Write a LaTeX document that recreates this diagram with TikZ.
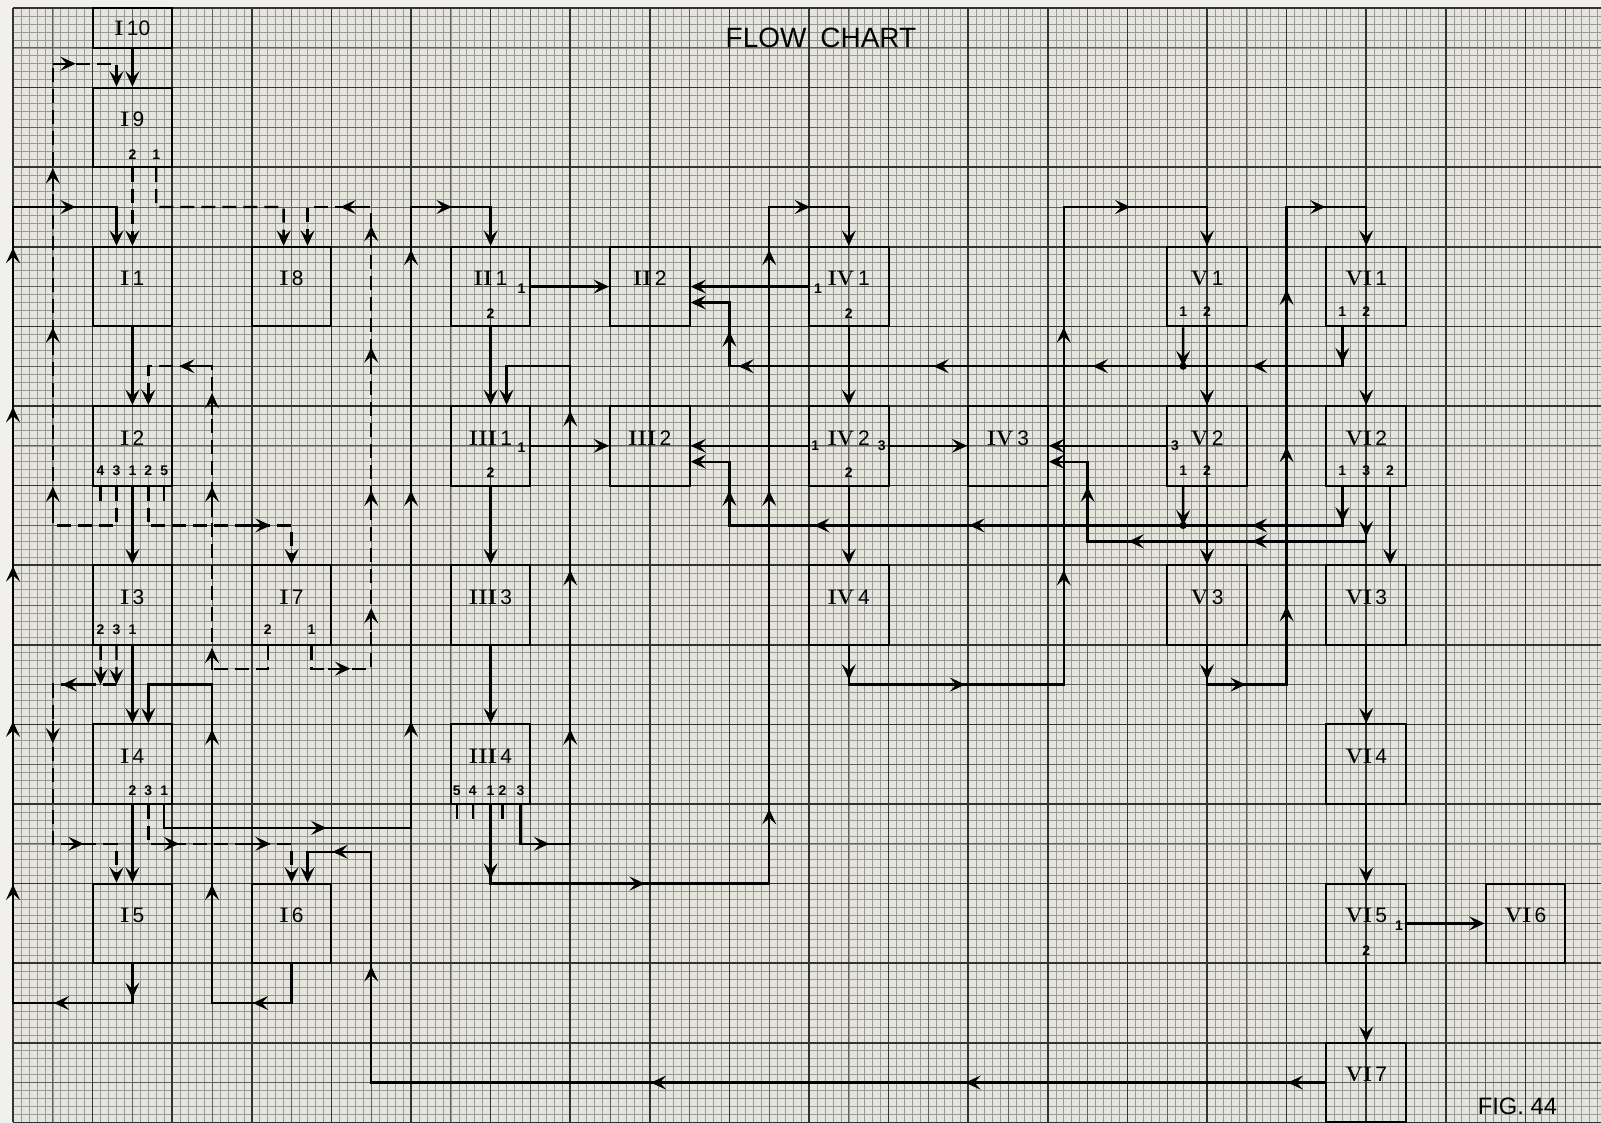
\documentclass[tikz,border=0pt]{standalone}
\usepackage{fontspec}
\setsansfont{Liberation Sans}
\usepackage{xcolor}
\usetikzlibrary{arrows.meta, positioning, calc}
\definecolor{paper}{RGB}{229,228,221}
\definecolor{rim}{RGB}{241,240,236}
\tikzstyle{ar} = [-{Stealth[length=11pt, width=10pt, inset=4.5pt]}]
\newcommand{\rn}[2]{{\rmfamily\bfseries #1}\,{\sffamily #2}}

\begin{document}
\begin{tikzpicture}[x=1cm, y=-1cm,
  blk/.style={rectangle, draw=black, line width=1.4pt, minimum width=2cm,
              minimum height=2cm, inner sep=0pt},
  halfblk/.style={blk, minimum height=1cm},
  lbl/.style={font=\fontsize{15}{17}\selectfont},
  lb/.style={label={[lbl, yshift=2mm]center:#1}},
  pn/.style={font=\sffamily\bfseries\fontsize{10}{12}\selectfont, inner sep=0pt},
  wire/.style={line width=1.7pt},
  dwire/.style={wire, dash pattern=on 10pt off 5pt},
  fineln/.style={black!40, line width=0.4pt},
  midln/.style={black!62, line width=0.7pt},
  bigln/.style={black!80, line width=1.1pt},
  pics/aru/.style={code={\draw[wire,ar] (0,-11pt) -- (0,5pt);}},
  pics/ard/.style={code={\draw[wire,ar] (0,11pt) -- (0,-5pt);}},
  pics/arr/.style={code={\draw[wire,ar] (-11pt,0) -- (5pt,0);}},
  pics/arl/.style={code={\draw[wire,ar] (11pt,0) -- (-5pt,0);}}
]
  % graph paper
  \useasboundingbox (-0.327,-0.201) rectangle (39.899,28.015);
  \fill[rim] (-0.327,-0.201) rectangle (39.899,28.015);
  \fill[paper] (0,0) rectangle (39.899,28);
  \foreach \i in {1,...,199} \draw[fineln] ({\i/5},0) -- ({\i/5},28);
  \foreach \j in {1,...,139} \draw[fineln] (0,{\j/5}) -- (39.899,{\j/5});
  \foreach \i in {1,3,...,39} \draw[midln] (\i,0) -- (\i,28);
  \foreach \j in {1,3,...,27} \draw[midln] (0,\j) -- (39.899,\j);
  \foreach \i in {0,2,...,38} \draw[bigln] (\i,0) -- (\i,28);
  \foreach \j in {0,2,...,28} \draw[bigln] (0,\j) -- (39.899,\j);

  \node[font=\sffamily\fontsize{20}{24}\selectfont] (title) at (20.3,0.75) {FLOW\hspace{0.35cm}CHART};
  \node[font=\sffamily\fontsize{17}{20}\selectfont] (fig) at (37.8,27.6) {FIG.\ 44};

  % blocks
  \node[halfblk, label={[lbl]center:\rn{I}{10}}] (I10) at (3,0.5) {};
  \node[blk, lb=\rn{I}{9}]   (I9)   at (3,3)  {};
  \node[blk, lb=\rn{I}{1}]   (I1)   at (3,7)  {};
  \node[blk, lb=\rn{I}{8}]   (I8)   at (7,7)  {};
  \node[blk, lb=\rn{II}{1}]  (II1)  at (12,7) {};
  \node[blk, lb=\rn{II}{2}]  (II2)  at (16,7) {};
  \node[blk, lb=\rn{IV}{1}]  (IV1)  at (21,7) {};
  \node[blk, lb=\rn{V}{1}]   (V1)   at (30,7) {};
  \node[blk, lb=\rn{VI}{1}]  (VI1)  at (34,7) {};
  \node[blk, lb=\rn{I}{2}]   (I2)   at (3,11) {};
  \node[blk, lb=\rn{III}{1}] (III1) at (12,11) {};
  \node[blk, lb=\rn{III}{2}] (III2) at (16,11) {};
  \node[blk, lb=\rn{IV}{2}]  (IV2)  at (21,11) {};
  \node[blk, lb=\rn{IV}{3}]  (IV3)  at (25,11) {};
  \node[blk, lb=\rn{V}{2}]   (V2)   at (30,11) {};
  \node[blk, lb=\rn{VI}{2}]  (VI2)  at (34,11) {};
  \node[blk, lb=\rn{I}{3}]   (I3)   at (3,15) {};
  \node[blk, lb=\rn{I}{7}]   (I7)   at (7,15) {};
  \node[blk, lb=\rn{III}{3}] (III3) at (12,15) {};
  \node[blk, lb=\rn{IV}{4}]  (IV4)  at (21,15) {};
  \node[blk, lb=\rn{V}{3}]   (V3)   at (30,15) {};
  \node[blk, lb=\rn{VI}{3}]  (VI3)  at (34,15) {};
  \node[blk, lb=\rn{I}{4}]   (I4)   at (3,19) {};
  \node[blk, lb=\rn{III}{4}] (III4) at (12,19) {};
  \node[blk, lb=\rn{VI}{4}]  (VI4)  at (34,19) {};
  \node[blk, lb=\rn{I}{5}]   (I5)   at (3,23) {};
  \node[blk, lb=\rn{I}{6}]   (I6)   at (7,23) {};
  \node[blk, lb=\rn{VI}{5}]  (VI5)  at (34,23) {};
  \node[blk, lb=\rn{VI}{6}]  (VI6)  at (38,23) {};
  \node[blk, lb=\rn{VI}{7}]  (VI7)  at (34,27) {};

  % port numbers
  \foreach \p/\dx in {2/0, 1/0.6} \node[pn] (I9p\p) at ($(I9.south)+(\dx,-0.35)$) {\p};
  \foreach \p/\dx in {4/-0.8, 3/-0.4, 1/0, 2/0.4, 5/0.8} \node[pn] (I2p\p) at ($(I2.south)+(\dx,-0.4)$) {\p};
  \foreach \p/\dx in {2/-0.8, 3/-0.4, 1/0} \node[pn] (I3p\p) at ($(I3.south)+(\dx,-0.4)$) {\p};
  \foreach \p/\dx in {2/-0.6, 1/0.5} \node[pn] (I7p\p) at ($(I7.south)+(\dx,-0.4)$) {\p};
  \foreach \p/\dx in {2/0, 3/0.4, 1/0.8} \node[pn] (I4p\p) at ($(I4.south)+(\dx,-0.35)$) {\p};
  \foreach \p/\dx in {5/-0.85, 4/-0.45, 1/0, 2/0.3, 3/0.75} \node[pn] (III4p\p) at ($(III4.south)+(\dx,-0.35)$) {\p};
  \foreach \b in {V1, VI1} \foreach \p/\dx in {1/-0.6, 2/0} \node[pn] (\b p\p) at ($(\b.south)+(\dx,-0.4)$) {\p};
  \foreach \p/\dx in {1/-0.6, 2/0} \node[pn] (V2p\p) at ($(V2.south)+(\dx,-0.4)$) {\p};
  \foreach \p/\dx in {1/-0.6, 3/0, 2/0.6} \node[pn] (VI2p\p) at ($(VI2.south)+(\dx,-0.4)$) {\p};
  \foreach \b in {II1, III1, IV1, IV2, VI5} \node[pn] (\b p2) at ($(\b.south)+(0,-0.35)$) {2};
  \node[pn] (II1p1)  at ($(II1.east)+(-0.25,0.05)$)  {1};
  \node[pn] (III1p1) at ($(III1.east)+(-0.25,0.05)$) {1};
  \node[pn] (IV1p1)  at ($(IV1.west)+(0.25,0.05)$)   {1};
  \node[pn] (IV2p1)  at ($(IV2.west)+(0.18,0)$)      {1};
  \node[pn] (IV2p3)  at ($(IV2.east)+(-0.2,0)$)      {3};
  \node[pn] (V2p3)   at ($(V2.west)+(0.22,0)$)       {3};
  \node[pn] (VI5p1)  at ($(VI5.east)+(-0.2,0.05)$)   {1};

  % free stubs
  \foreach \dx in {-0.8,0.8} \draw[wire] ([xshift=\dx cm]I2.south) -- ++(0,0.35);
  \foreach \dx in {-0.85,-0.45,0.3} \draw[wire] ([xshift=\dx cm]III4.south) -- ++(0,0.35);

  % straight links
  \draw[wire,ar] (I10.south) -- (I9.north);
  \draw[wire,ar] (I1.south) -- (I2.north);
  \draw[wire,ar] (I2.south) -- (I3.north);
  \draw[wire,ar] (I3.south) -- (I4.north);
  \draw[wire,ar] (I4.south) -- (I5.north);
  \draw[wire,ar] (II1.east) -- (II2.west);
  \draw[wire,ar] (II1.south) -- (III1.north);
  \draw[wire,ar] (III1.east) -- (III2.west);
  \draw[wire,ar] (III1.south) -- (III3.north);
  \draw[wire,ar] (III3.south) -- (III4.north);
  \draw[wire,ar] (IV1.west) -- (II2.east);
  \draw[wire,ar] (IV1.south) -- (IV2.north);
  \draw[wire,ar] (IV2.west) -- (III2.east);
  \draw[wire,ar] (IV2.east) -- (IV3.west);
  \draw[wire,ar] (IV2.south) -- (IV4.north);
  \draw[wire,ar] (V1.south) -- (V2.north);
  \draw[wire,ar] (V2.west) -- (IV3.east);
  \draw[wire,ar] (V2.south) -- (V3.north);
  \draw[wire,ar] (VI1.south) -- (VI2.north);
  \draw[wire,ar] ([xshift=6mm]VI2.south) -- ([xshift=6mm]VI3.north);
  \draw[wire,ar] (VI3.south) -- (VI4.north);
  \draw[wire,ar] (VI4.south) -- (VI5.north);
  \draw[wire,ar] (VI5.east) -- (VI6.west);
  \draw[wire,ar] (VI5.south) -- (VI7.north);

  % I5 back to I1 along the edge
  \draw[wire,ar] (I5.south) |- (0,25) -- (0,5) -| ([xshift=-4mm]I1.north);
  \pic at (3,24.7) {ard}; \pic at (1.2,25) {arl}; \pic at (1.4,5) {arr};
  \foreach \y in {22.2,18.1,14.2,10.2,6.2} \pic at (0,\y) {aru};

  % I4 to II1
  \draw[wire,ar] ([xshift=8mm]I4.south) |- (10,20.6) -- (10,5) -| (II1.north);
  \pic at (7.7,20.6) {arr}; \pic at (10.85,5) {arr};
  \foreach \y in {18.1,12.3,6.25} \pic at (10,\y) {aru};

  % I6 to I4
  \draw[wire,ar] (I6.south) |- (5,25) -- (5,17) -| ([xshift=4mm]I4.north);
  \pic at (6.2,25) {arl};
  \foreach \y in {22.2,18.3} \pic at (5,\y) {aru};

  % VI7 to I6
  \draw[wire,ar] (VI7.west) -| (9,21.2) -| ([xshift=4mm]I6.north);
  \foreach \x in {32.2,24.1,16.2} \pic at (\x,27) {arl};
  \pic at (9,24.25) {aru}; \pic at (8.2,21.2) {arl};

  % III4 to III1
  \draw[wire,ar] ([xshift=7.5mm]III4.south) |- (14,21) -- (14,9) -| ([xshift=4mm]III1.north);
  \pic at (13.3,21) {arr};
  \foreach \y in {18.3,14.3,10.3} \pic at (14,\y) {aru};

  % III4 to IV1
  \draw[wire,ar] (III4.south) |- (19,22) -- (19,5) -| (IV1.north);
  \pic at (12,21.7) {ard}; \pic at (15.7,22) {arr}; \pic at (19.85,5) {arr};
  \foreach \y in {20.3,12.3,6.25} \pic at (19,\y) {aru};

  % VI1 and V1 to II2
  \coordinate (j1) at (29.4,9);
  \draw[wire,ar] ([xshift=-6mm]VI1.south) |- (18,9) |- ([yshift=-4mm]II2.east);
  \draw[wire,ar] ([xshift=-6mm]V1.south) -- (j1);
  \fill (j1) circle (2.6pt);
  \pic at (33.4,8.75) {ard}; \pic at (18,8.3) {aru};
  \foreach \x in {31.3,27.3,23.3,18.4} \pic at (\x,9) {arl};

  % VI2 and V2 to III2
  \coordinate (j2) at (29.4,13);
  \draw[wire,ar] ([xshift=-6mm]VI2.south) |- (18,13) |- ([yshift=-4mm]III2.east);
  \draw[wire,ar] ([xshift=-6mm]V2.south) -- (j2);
  \fill (j2) circle (2.6pt);
  \pic at (33.4,12.75) {ard}; \pic at (18,12.3) {aru};
  \foreach \x in {31.3,24.2,20.3} \pic at (\x,13) {arl};

  % VI2 to IV3
  \draw[wire,ar] (VI2.south) |- (27,13.4) |- ([yshift=-4mm]IV3.east);
  \pic at (34,13.1) {ard}; \pic at (27,12.2) {aru};
  \foreach \x in {31.3,28.2} \pic at (\x,13.4) {arl};

  % IV4 to V1
  \draw[wire,ar] (IV4.south) |- (26.4,17) -- (26.4,5) -| (V1.north);
  \pic at (21,16.7) {ard}; \pic at (23.75,17) {arr}; \pic at (27.9,5) {arr};
  \foreach \y in {14.3,8.2} \pic at (26.4,\y) {aru};

  % V3 to VI1
  \draw[wire,ar] (V3.south) |- (32,17) -- (32,5) -| (VI1.north);
  \pic at (30,16.7) {ard}; \pic at (30.8,17) {arr}; \pic at (32.8,5) {arr};
  \foreach \y in {15.2,11.2,7.25} \pic at (32,\y) {aru};

  % dashed links
  \draw[dwire,ar] (I9.south) -- (I1.north);
  \draw[dwire,ar] ([xshift=6mm]I9.south) |- (6.8,5) -- ([xshift=-2mm]I8.north);

  \draw[dwire,ar] ([xshift=-4mm]I2.south) |- (1,13) -- (1,1.4) -| ([xshift=-4mm]I9.north);
  \pic at (1.4,1.4) {arr};
  \foreach \y in {12.2,8.2,4.2} \pic at (1,\y) {aru};

  \draw[dwire,ar] ([xshift=4mm]I2.south) |- (7,13) -- (I7.north);
  \pic at (6.3,13) {arr};

  \draw[dwire,ar] ([xshift=5mm]I7.south) |- (9,16.6) -- (9,5) -| ([xshift=4mm]I8.north);
  \pic at (8.3,16.6) {arr}; \pic at (8.4,5) {arl};
  \foreach \y in {15.25,12.3,8.7,5.65} \pic at (9,\y) {aru};

  \draw[dwire,ar] ([xshift=-6mm]I7.south) |- (5,16.6) -- (5,9) -| ([xshift=4mm]I2.north);
  \pic at (4.35,9) {arl};
  \foreach \y in {16.25,12.2,9.85} \pic at (5,\y) {aru};

  \coordinate (i3a) at (2.2,17);
  \coordinate (i3b) at (2.6,17);
  \draw[dwire,ar] ([xshift=-8mm]I3.south) -- (i3a);
  \draw[dwire,ar] ([xshift=-4mm]I3.south) -- (i3b);
  \draw[dwire,ar] (i3b) -| (1,21) -| ([xshift=-4mm]I5.north);
  \pic at (1.4,17) {arl}; \pic at (1,18.3) {ard}; \pic at (1.6,21) {arr};

  \draw[dwire,ar] ([xshift=4mm]I4.south) |- (7,21) -- (I6.north);
  \pic at (4,21) {arr}; \pic at (6.3,21) {arr};
\end{tikzpicture}
\end{document}
